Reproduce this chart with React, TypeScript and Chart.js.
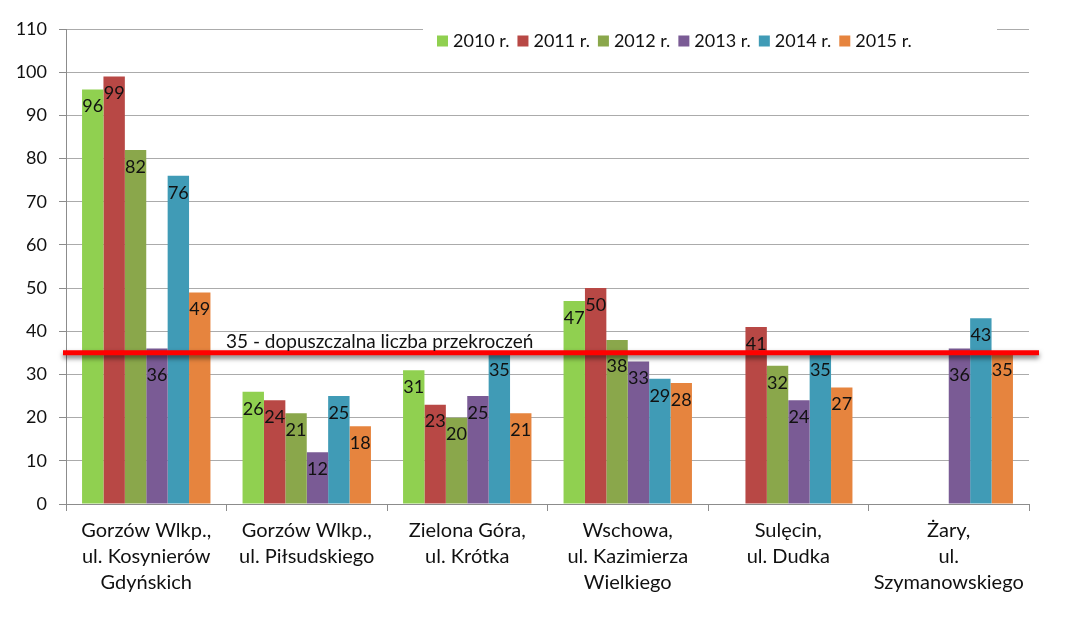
import React, { useEffect, useRef } from "react";
import { Chart, registerables } from "chart.js";

Chart.register(...registerables);

const categories: string[][] = [
  ["Gorzów Wlkp.,", "ul. Kosynierów", "Gdyńskich"],
  ["Gorzów Wlkp.,", "ul. Piłsudskiego"],
  ["Zielona Góra,", "ul. Krótka"],
  ["Wschowa,", "ul. Kazimierza", "Wielkiego"],
  ["Sulęcin,", "ul. Dudka"],
  ["Żary,", "ul.", "Szymanowskiego"],
];

const seriesLabels = ["2010 r.", "2011 r.", "2012 r.", "2013 r.", "2014 r.", "2015 r."];
const seriesColors = ["#90d050", "#b84845", "#8aa74b", "#7a5b95", "#409bb6", "#e6843e"];

const values2010 = [96, 26, 31, 47, null, null];
const values2011 = [99, 24, 23, 50, 41, null];
const values2012 = [82, 21, 20, 38, 32, null];
const values2013 = [36, 12, 25, 33, 24, 36];
const values2014 = [76, 25, 35, 29, 35, 43];
const values2015 = [49, 18, 21, 28, 27, 35];

const limitValue = 35;
const limitLabel = "35 - dopuszczalna liczba przekroczeń";

const yMin = 0;
const yMax = 110;
const yStep = 10;

const FONT = "Lato, 'DejaVu Sans', sans-serif";

const overlayPlugin = {
  id: "overlay",
  afterDatasetsDraw(chart: any) {
    const ctx = chart.ctx;
    const area = chart.chartArea;
    const lineY = chart.scales.y.getPixelForValue(limitValue);
    // data labels
    ctx.save();
    ctx.font = `18px ${FONT}`;
    ctx.fillStyle = "#111";
    ctx.textAlign = "center";
    ctx.textBaseline = "middle";
    chart.data.datasets.forEach((ds: any, i: number) => {
      const meta = chart.getDatasetMeta(i);
      meta.data.forEach((el: any, j: number) => {
        const v = ds.data[j];
        if (v === null || v === undefined) return;
        let ly = el.y + 17;
        // keep labels clear of the limit line when they would sit just under it
        if (ly >= lineY && ly - lineY < 14) ly = el.y + 26.5;
        ctx.fillText(String(v), el.x, ly);
      });
    });
    ctx.restore();

    // limit line
    ctx.save();
    ctx.shadowColor = "rgba(0,0,0,0.55)";
    ctx.shadowBlur = 5;
    ctx.shadowOffsetY = 3;
    ctx.strokeStyle = "#ff0000";
    ctx.lineWidth = 5;
    ctx.beginPath();
    ctx.moveTo(area.left - 3, lineY);
    ctx.lineTo(area.right + 10, lineY);
    ctx.stroke();
    ctx.restore();

    ctx.save();
    ctx.font = `19px ${FONT}`;
    ctx.fillStyle = "#111";
    ctx.textAlign = "left";
    ctx.textBaseline = "middle";
    ctx.fillText(limitLabel, 226, lineY - 11);
    ctx.restore();

    // legend
    ctx.save();
    ctx.fillStyle = "#ffffff";
    ctx.fillRect(423, 24, 574, 34);
    ctx.font = `18px ${FONT}`;
    ctx.textBaseline = "middle";
    ctx.textAlign = "left";
    let x = 437;
    const cy = 41;
    chart.data.datasets.forEach((ds: any) => {
      ctx.fillStyle = ds.backgroundColor;
      ctx.fillRect(x, cy - 5.5, 11, 11);
      ctx.fillStyle = "#111";
      ctx.fillText(ds.label, x + 16, cy);
      x += 16 + ctx.measureText(ds.label).width + 8;
    });
    ctx.restore();
  },
};

export default function App() {
  const ref = useRef<HTMLCanvasElement | null>(null);

  useEffect(() => {
    if (!ref.current) return;
    const all = [values2010, values2011, values2012, values2013, values2014, values2015];
    const chart = new Chart(ref.current, {
      type: "bar",
      data: {
        labels: categories as any,
        datasets: all.map((d, i) => ({
          label: seriesLabels[i],
          data: d as any,
          backgroundColor: seriesColors[i],
          borderWidth: 0,
          categoryPercentage: 0.8,
          barPercentage: 1.0,
        })),
      },
      options: {
        responsive: false,
        animation: false,
        devicePixelRatio: 1,
        layout: { padding: { top: 29, right: 39, left: 0, bottom: 0 } },
        plugins: {
          legend: { display: false },
          tooltip: { enabled: false },
        },
        scales: {
          x: {
            grid: {
              display: true,
              drawOnChartArea: false,
              drawTicks: true,
              tickLength: 7,
              color: "#8c8c8c",
              offset: true,
            },
            border: { display: true, color: "#8c8c8c" },
            ticks: {
              autoSkip: false,
              maxRotation: 0,
              minRotation: 0,
              color: "#111",
              padding: 7,
              font: { family: FONT, size: 20, lineHeight: 1.3 },
            },
            afterFit(scale: any) {
              scale.height = 124;
            },
          },
          y: {
            min: yMin,
            max: yMax,
            ticks: {
              stepSize: yStep,
              color: "#111",
              padding: 12,
              font: { family: FONT, size: 18 },
            },
            grid: {
              color: "#ababab",
              tickLength: 7,
              tickColor: "#8c8c8c",
            },
            border: { display: true, color: "#8c8c8c" },
            afterFit(scale: any) {
              scale.width = 66;
            },
          },
        },
      },
      plugins: [overlayPlugin],
    });
    return () => chart.destroy();
  }, []);

  return (
    <div style={{ position: "absolute", left: 0, top: 0, width: 1068, height: 628, background: "#fff" }}>
      <canvas ref={ref} width={1068} height={628} style={{ width: 1068, height: 628 }} />
    </div>
  );
}
